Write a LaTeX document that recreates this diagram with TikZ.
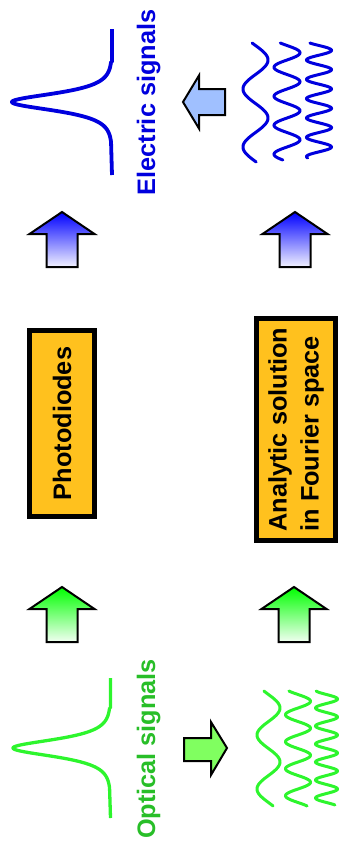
\documentclass[tikz,border=0pt]{standalone}
\usepackage{fontspec}
\setmainfont{Liberation Sans}
\definecolor{elecblue}{RGB}{0,0,222}
\definecolor{elecfill}{RGB}{160,192,255}
\definecolor{optgreen}{RGB}{45,245,45}
\definecolor{opttext}{RGB}{40,190,40}
\definecolor{optfill}{RGB}{128,255,96}
\definecolor{boxorange}{RGB}{255,193,30}
\tikzset{
  lbl/.style={font={\fontsize{25.3}{32}\selectfont\bfseries}, inner sep=0pt},
  procbox/.style={draw=black, line width=5pt, fill=boxorange, rotate=90,
    lbl, align=left, inner sep=0pt},
  blockarrow/.style={draw=black, line width=2pt, miter limit=10},
  bluegrad/.style={blockarrow, top color=blue, bottom color={rgb,255:red,242;green,242;blue,255}},
  greengrad/.style={blockarrow, top color={rgb,255:red,0;green,255;blue,0}, bottom color={rgb,255:red,242;green,255;blue,242}},
  wave/.style={line width=3pt, line cap=round},
  pulse/.style={line width=3.8pt, line join=round},
}
% outline of an upward block arrow, tip at the origin
\def\uparrowoutline{(0,0) -- (32.5,22) -- (15.5,22) -- (15.5,55) -- (-15.5,55) -- (-15.5,22) -- (-32.5,22) -- cycle}
\begin{document}
\begin{tikzpicture}[x=1pt,y=-1pt]
\useasboundingbox (0,0) rectangle (339,855);

% ---- electric pulse and its label
\coordinate (etop) at (112,29);
\coordinate (ebot) at (112,175);
\draw[pulse, elecblue] (etop) -- (112,62)
  -- plot[variable=\t, domain=62:142, samples=241] ({112-100/cosh((\t-102)/7.5)},{\t})
  -- (ebot);
\node (elabel) [lbl, text=elecblue, rotate=90, anchor=base] at (155,102.5) {Electric signals};

% ---- electric harmonic components
\draw[wave, elecblue] plot[variable=\t, domain=43:162, samples=200] ({255.5+12.5*sin((\t-45.5)/58*360)},{\t});
\draw[wave, elecblue] plot[variable=\t, domain=43:160, samples=240] ({287+13*sin((\t-45.5)/58*720)},{\t});
\draw[wave, elecblue] plot[variable=\t, domain=43:158, samples=300] ({319+12.5*sin((\t-45.5)/58*1080)},{\t});

% ---- synthesis arrow (components to pulse)
\draw[blockarrow, fill=elecfill] (183,102) -- (199,75.5) -- (199,89) -- (225,89)
  -- (225,115) -- (199,115) -- (199,128.5) -- cycle;

% ---- upward arrows into the electric row
\draw[bluegrad, shift={(62,212)}] \uparrowoutline;
\draw[bluegrad, shift={(295,212)}] \uparrowoutline;

% ---- processing boxes
\node (pd) [procbox, minimum width=186, minimum height=65] at (62,423.5) {Photodiodes};
\node (an) [procbox, minimum width=222, minimum height=79] at (296,429.5)
  {Analytic solution\\in Fourier space};

% ---- upward arrows out of the optical row
\draw[greengrad, shift={(62,587)}] \uparrowoutline;
\draw[greengrad, shift={(294,587)}] \uparrowoutline;

% ---- optical pulse and its label
\coordinate (otop) at (110.5,678);
\coordinate (obot) at (110.5,818);
\draw[pulse, optgreen, line width=3.3pt] (otop) -- (110.5,708)
  -- plot[variable=\t, domain=708:788, samples=241] ({110.5-97.5/cosh((\t-748)/7.5)},{\t})
  -- (obot);
\node (olabel) [lbl, text=opttext, rotate=90, anchor=base] at (155,749) {Optical signals};

% ---- decomposition arrow (pulse to components)
\draw[blockarrow, fill=optfill] (227,748) -- (211,722) -- (211,738) -- (184,738)
  -- (184,761) -- (211,761) -- (211,775) -- cycle;

% ---- optical harmonic components
\draw[wave, optgreen] plot[variable=\t, domain=691:806, samples=200] ({268.5+11.5*sin((\t-694.5)/54*360)},{\t});
\draw[wave, optgreen] plot[variable=\t, domain=691:806, samples=240] ({298+12.5*sin((\t-694.5)/54*720)},{\t});
\draw[wave, optgreen] plot[variable=\t, domain=691:805, samples=300] ({326.5+11*sin((\t-694.5)/54*1080)},{\t});
\end{tikzpicture}
\end{document}
